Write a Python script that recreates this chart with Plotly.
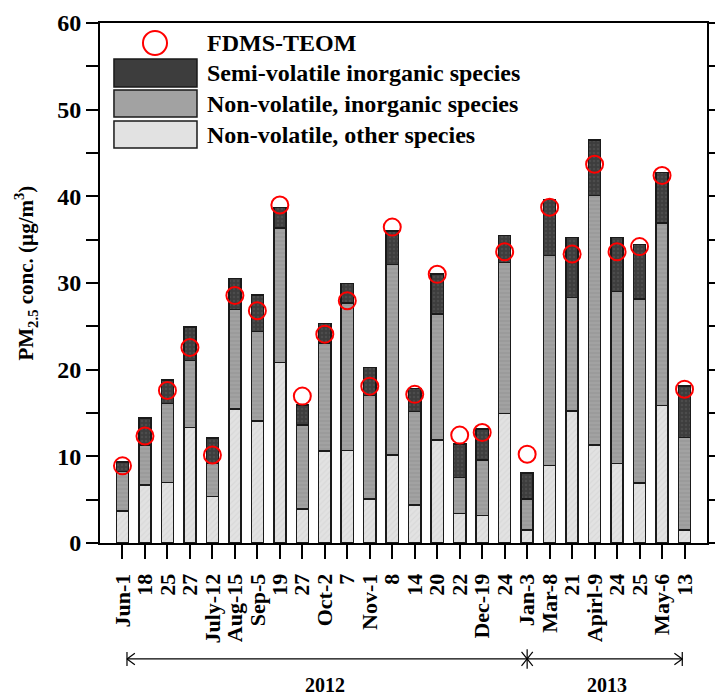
import plotly.graph_objects as go

# Sampling dates (tick labels) and PM2.5 composition, ug/m3
dates = ["Jun-1", "18", "25", "27", "July-12", "Aug-15", "Sep-5", "19", "27",
         "Oct-2", "7", "Nov-1", "8", "14", "20", "22", "Dec-19", "24",
         "Jan-3", "Mar-8", "21", "Apirl-9", "24", "25", "May-6", "13"]

nonvol_other = [3.7, 6.7, 7.0, 13.35, 5.35, 15.45, 14.1, 20.85, 3.9, 10.6,
                10.7, 5.1, 10.15, 4.4, 11.9, 3.4, 3.2, 14.95, 1.5, 8.95,
                15.25, 11.3, 9.2, 6.9, 15.85, 1.5]
nonvol_inorg = [4.55, 4.6, 9.1, 7.7, 3.85, 11.5, 10.3, 15.5, 9.7, 12.5,
                17.0, 11.9, 22.0, 10.75, 14.5, 4.15, 6.4, 17.4, 3.55, 24.25,
                13.1, 28.8, 19.8, 21.25, 21.1, 10.7]
semivol_inorg = [1.1, 3.1, 2.7, 3.85, 2.9, 3.55, 4.2, 2.35, 2.35, 2.25,
                 2.25, 3.25, 3.85, 2.7, 4.65, 3.9, 3.55, 3.15, 3.0, 6.45,
                 6.9, 6.4, 6.25, 6.3, 5.8, 5.9]
fdms_teom = [8.9, 12.35, 17.6, 22.55, 10.15, 28.55, 26.8, 39.0, 16.95, 24.1,
             27.95, 18.1, 36.45, 17.15, 31.0, 12.45, 12.75, 33.6, 10.25, 38.75,
             33.35, 43.7, 33.6, 34.2, 42.4, 17.75]

years = ["2012", "2013"]

x = list(range(len(dates)))
FONT = "Liberation Serif, Times New Roman, serif"
EDGE = "#1a1a1a"

layers = [
    ("Non-volatile, other species", nonvol_other, "#e2e2e2", "#cfcfcf", "/"),
    ("Non-volatile, inorganic species", nonvol_inorg, "#a2a2a2", "#8a8a8a", "-"),
    ("Semi-volatile inorganic species", semivol_inorg, "#3d3d3d", "#5a5a5a", "."),
]

fig = go.Figure()
for name, vals, bg, fg, shp in layers:
    fig.add_trace(go.Bar(
        x=x, y=vals, name=name, width=0.54,
        marker=dict(color=bg,
                    line=dict(color=EDGE, width=1.5),
                    pattern=dict(shape=shp, bgcolor=bg, fgcolor=fg,
                                 size=4, solidity=0.3)),
        showlegend=False,
    ))

fig.add_trace(go.Scatter(
    x=x, y=fdms_teom, mode="markers", name="FDMS-TEOM",
    marker=dict(symbol="circle-open", size=17, color="#ff0000",
                line=dict(width=2, color="#ff0000")),
    showlegend=False,
))

# ---- hand-built legend (large swatches) ----
shapes = []
annotations = []
shapes.append(dict(type="circle", xref="paper", yref="paper",
                   x0=0.0708, x1=0.1104, y0=0.9385, y1=0.9846,
                   line=dict(color="#ff0000", width=2)))
swatch_rows = [(0.931, 0.877), (0.871, 0.819), (0.8115, 0.7596)]
for (y1, y0), (name, _, bg, _, _) in zip(swatch_rows, layers[::-1]):
    shapes.append(dict(type="rect", xref="paper", yref="paper",
                       x0=0.023, x1=0.1598, y0=y0, y1=y1,
                       fillcolor=bg, line=dict(color=EDGE, width=1.5)))
legend_text = [("FDMS-TEOM", 0.9615),
               ("Semi-volatile inorganic species", 0.9038),
               ("Non-volatile, inorganic species", 0.8442),
               ("Non-volatile, other species", 0.7846)]
for txt, yy in legend_text:
    annotations.append(dict(text=txt, xref="paper", yref="paper",
                            x=0.173, y=yy, xanchor="left", yanchor="middle",
                            showarrow=False,
                            font=dict(family=FONT, size=24, color="black",
                                      weight="bold")))

# ---- year span arrows below the date axis ----
ya = -0.223
dy = 0.0135
hx, hy = 0.35, 0.011
x_start, x_mid, x_end = 0.2, 18.0, 24.9
line_style = dict(color="black", width=1.2)
seg = [
    (x_start, ya, x_end, ya),
    # left end: bar + arrowhead
    (x_start, ya - dy, x_start, ya + dy),
    (x_start, ya, x_start + hx, ya + hy),
    (x_start, ya, x_start + hx, ya - hy),
    # right end: bar + arrowhead
    (x_end, ya - dy, x_end, ya + dy),
    (x_end, ya, x_end - hx, ya + hy),
    (x_end, ya, x_end - hx, ya - hy),
    # year boundary marker
    (x_mid, ya - dy * 1.4, x_mid, ya + dy * 1.4),
    (x_mid - 0.25, ya - dy, x_mid + 0.25, ya + dy),
    (x_mid - 0.25, ya + dy, x_mid + 0.25, ya - dy),
]
for x0, y0, x1, y1 in seg:
    shapes.append(dict(type="line", xref="x", yref="paper",
                       x0=x0, y0=y0, x1=x1, y1=y1, line=line_style))

for yr, xc in zip(years, [9.0, 21.55]):
    annotations.append(dict(text=yr, xref="x", yref="paper", x=xc, y=-0.273,
                            showarrow=False, xanchor="center", yanchor="middle",
                            font=dict(family=FONT, size=20, color="black",
                                      weight="bold")))

# y-axis title
annotations.append(dict(text="PM<sub>2.5</sub> conc. (\u00b5g/m<sup>3</sup>)",
                        xref="paper", yref="paper", x=-0.122, y=0.52,
                        textangle=-90, showarrow=False,
                        xanchor="center", yanchor="middle",
                        font=dict(family=FONT, size=21, color="black",
                                  weight="bold")))

fig.update_layout(
    width=715, height=695,
    margin=dict(l=100, r=8, t=23, b=152, autoexpand=False),
    paper_bgcolor="white", plot_bgcolor="white",
    barmode="stack", bargap=0.4,
    font=dict(family=FONT, color="black", weight="bold"),
    shapes=shapes, annotations=annotations,
    xaxis=dict(range=[-1, 26], tickmode="array", tickvals=x, ticktext=dates,
               tickangle=-90, ticks="outside", ticklen=14, tickwidth=2,
               tickcolor="black", showline=True, linecolor="black",
               linewidth=2, mirror=True, showgrid=False, zeroline=False,
               automargin=False, ticklabelstandoff=6,
               tickfont=dict(family=FONT, size=22, color="black",
                             weight="bold")),
    yaxis=dict(range=[0, 60], tickmode="linear", tick0=0, dtick=10,
               ticks="outside", ticklen=12, tickwidth=2, tickcolor="black",
               showline=True, linecolor="black", linewidth=2,
               mirror="ticks", showgrid=False, zeroline=False,
               automargin=False,
               minor=dict(dtick=5, tick0=0, ticks="outside", ticklen=12,
                          tickwidth=2, tickcolor="black", showgrid=False),
               tickfont=dict(family=FONT, size=24, color="black",
                             weight="bold")),
)

fig.write_html("out.html")
